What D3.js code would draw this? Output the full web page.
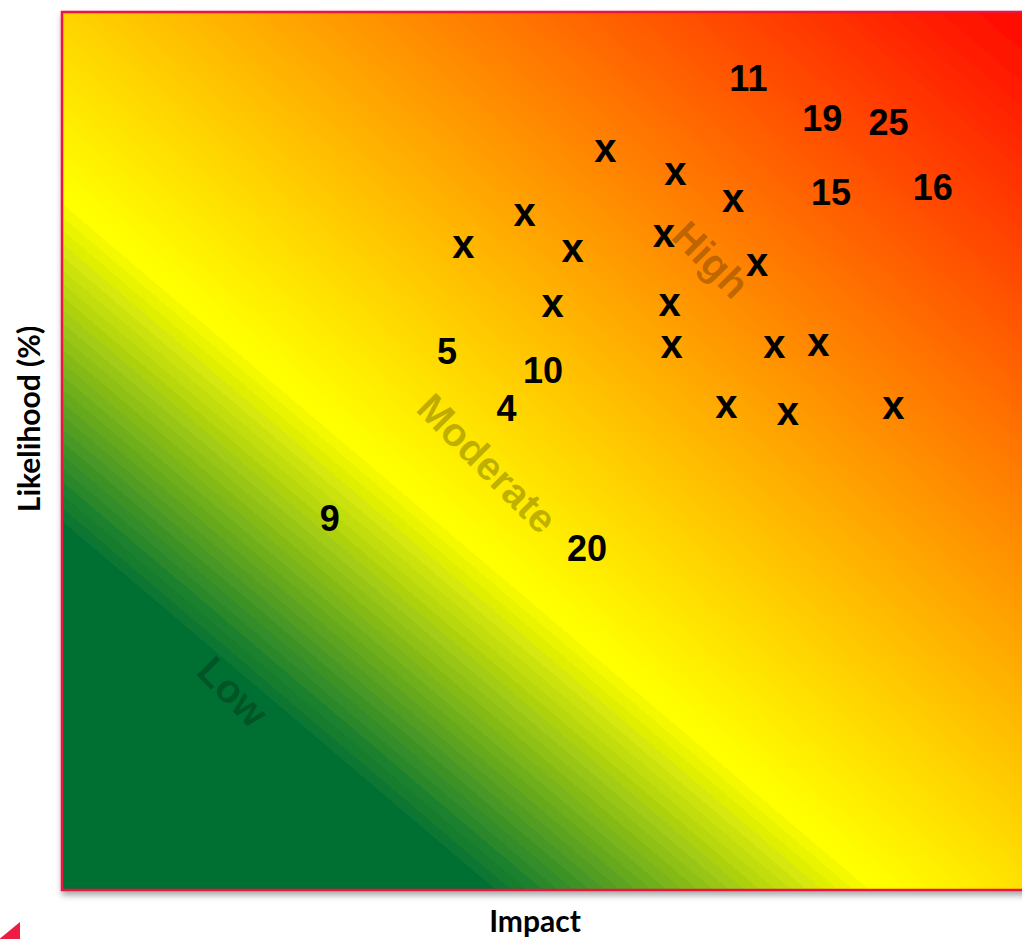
<!DOCTYPE html>
<html>
<head>
<meta charset="utf-8">
<script src="https://cdn.jsdelivr.net/npm/d3@7"></script>
<style>
  html, body { margin: 0; padding: 0; background: #ffffff; overflow: hidden; }
</style>
</head>
<body>
<div id="chart"></div>
<script>
// ---- data ----
const labels     = ["x","x","x","x","x","x","x","x","x","x","x","x","x","x","x","x",
                    "11","19","25","15","16","5","10","4","9","20"];
const impact     = [5.66,6.39,6.99,4.82,4.18,5.32,6.27,7.24,5.11,6.33,6.35,7.42,7.88,6.92,7.56,8.66,
                    7.15,7.92,8.61,8.01,9.07,4.01,5.01,4.63,2.79,5.47];
const likelihood = [84.1,81.5,78.4,76.8,73.2,72.7,74.4,71.1,66.4,66.6,61.8,61.8,62.0,54.9,54.2,54.8,
                    92.5,87.9,87.5,79.5,80.1,61.4,59.2,54.9,42.4,39.0];

const zoneNames      = ["Low","Moderate","High"];
const zoneImpact     = [1.78,4.43,6.76];
const zoneLikelihood = [22.6,48.6,71.8];

const axisTitleX = "Impact";
const axisTitleY = "Likelihood (%)";

// ---- layout ----
const W = 1022, H = 939;
const plot = { left: 62, top: 12, right: 1022, bottom: 890 };

const x = d3.scaleLinear().domain([0, 10]).range([plot.left, plot.right]);
const y = d3.scaleLinear().domain([0, 100]).range([plot.bottom, plot.top]);

const svg = d3.select("#chart").append("svg")
  .attr("width", W).attr("height", H)
  .attr("viewBox", `0 0 ${W} ${H}`);

const defs = svg.append("defs");

// drop shadow
const f = defs.append("filter").attr("id", "shadow")
  .attr("x", "-5%").attr("y", "-5%").attr("width", "115%").attr("height", "115%");
f.append("feDropShadow").attr("dx", 1).attr("dy", 4).attr("stdDeviation", 3)
  .attr("flood-color", "#000").attr("flood-opacity", 0.35);

// diagonal gradient: green (bottom-left) -> yellow -> red (top-right)
const pw = plot.right - plot.left, ph = plot.bottom - plot.top;
const slope = 0.85;                       // iso-colour lines slope
const nlen = Math.hypot(slope, 1);
const nx = slope / nlen, ny = 1 / nlen;   // normal, pointing up-right
const span = pw * nx + ph * ny;
const grad = defs.append("linearGradient").attr("id", "riskGrad")
  .attr("gradientUnits", "userSpaceOnUse")
  .attr("x1", plot.left).attr("y1", plot.bottom)
  .attr("x2", plot.left + nx * span).attr("y2", plot.bottom - ny * span);

const darkGreen = "#007033", yellow = "#FFFF00", red = "#FF0800";
const gStart = 0.21, gEnd = 0.413;
grad.append("stop").attr("offset", 0).attr("stop-color", darkGreen);
const N = 26;
const ig = d3.interpolateRgb(darkGreen, yellow);
for (let i = 0; i < N; i++) {
  const o0 = gStart + (gEnd - gStart) * i / N;
  const o1 = gStart + (gEnd - gStart) * (i + 1) / N;
  const c = ig(i / (N - 1));
  grad.append("stop").attr("offset", o0).attr("stop-color", c);
  grad.append("stop").attr("offset", o1).attr("stop-color", c);
}
grad.append("stop").attr("offset", gEnd).attr("stop-color", yellow);
grad.append("stop").attr("offset", 1).attr("stop-color", red);

// plot frame (extends slightly past the right edge, as in the reference)
svg.append("rect")
  .attr("x", plot.left).attr("y", plot.top)
  .attr("width", pw + 20).attr("height", ph)
  .attr("fill", "url(#riskGrad)")
  .attr("stroke", "#E8173F").attr("stroke-width", 2.5)
  .attr("filter", "url(#shadow)");

// zone labels
svg.append("g").selectAll("text").data(zoneNames).join("text")
  .attr("transform", (d, i) => `translate(${x(zoneImpact[i])},${y(zoneLikelihood[i])}) rotate(45)`)
  .attr("text-anchor", "middle")
  .attr("dominant-baseline", "central")
  .attr("font-family", "'Liberation Sans', Arial, sans-serif")
  .attr("font-weight", "bold")
  .attr("font-size", 40)
  .attr("fill", "#000").attr("fill-opacity", 0.25)
  .text(d => d);

// points: "x" markers and risk numbers
svg.append("g").selectAll("text").data(labels).join("text")
  .attr("x", (d, i) => x(impact[i]))
  .attr("y", (d, i) => y(likelihood[i]))
  .attr("dy", d => d === "x" ? "0.26em" : "0.36em")
  .attr("text-anchor", "middle")
  .attr("font-family", "'Liberation Sans', Arial, sans-serif")
  .attr("font-weight", "bold")
  .attr("font-size", d => d === "x" ? 40 : 36)
  .attr("fill", "#000")
  .text(d => d);

// axis titles
svg.append("text")
  .attr("x", 535).attr("y", 932)
  .attr("text-anchor", "middle")
  .attr("font-family", "Lato, 'Open Sans', sans-serif")
  .attr("font-weight", "bold").attr("font-size", 30)
  .attr("fill", "#000")
  .text(axisTitleX);

svg.append("text")
  .attr("transform", `translate(40,419) rotate(-90)`)
  .attr("text-anchor", "middle")
  .attr("font-family", "Lato, 'Open Sans', sans-serif")
  .attr("font-weight", "bold").attr("font-size", 30)
  .attr("fill", "#000")
  .text(axisTitleY);

// small decorative triangle at bottom-left corner
svg.append("path")
  .attr("d", "M20,922 L20,945 L-8,945 Z")
  .attr("fill", "#EE1C44");
</script>
</body>
</html>
